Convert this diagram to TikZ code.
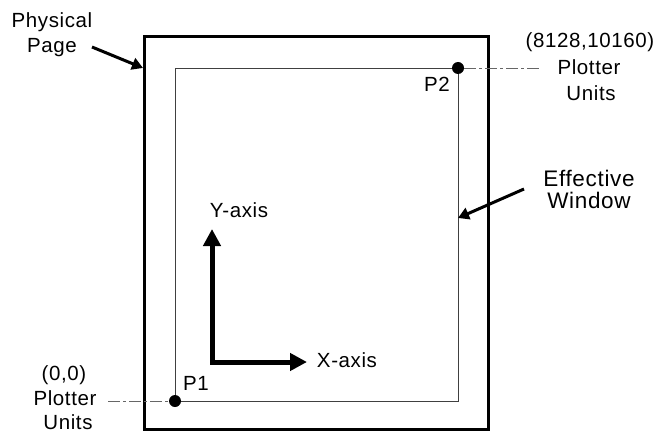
\documentclass[tikz,border=0pt]{standalone}
\usepackage{fontspec}
\setmainfont[LetterSpace=3]{Liberation Sans}
\usetikzlibrary{arrows.meta}
\tikzset{
  lbl/.style={font=\fontsize{20.5}{25}\selectfont, anchor=base, inner sep=0pt},
  biglbl/.style={font=\fontsize{22.5}{25}\selectfont, anchor=base, inner sep=0pt},
  page/.style={line width=3pt, line join=miter},
  window/.style={line width=0.9pt, draw=black!75},
  leader/.style={line width=0.6pt, draw=black!60, dash pattern=on 12pt off 3pt on 3pt off 3pt},
  dot/.style={circle, fill=black, inner sep=0pt, minimum size=12pt},
  axis/.style={line width=5pt, line join=miter, {Triangle[length=17pt,width=17pt]}-{Triangle[length=17pt,width=17pt]}},
  pointer/.style={line width=3pt, -{Triangle[length=11pt,width=12pt]}}
}
\begin{document}
\begin{tikzpicture}[x=1pt,y=-1pt]
\useasboundingbox[fill=white] (0,0) rectangle (655,433);
% physical page and effective window
\draw[page] (144,37) rectangle (488,429);
\draw[window] (175,68) rectangle (458,401);
% points
\node[dot] (p1) at (175,401) {};
\node[dot] (p2) at (458,68) {};
\coordinate (l1) at (108,401);
\coordinate (l2) at (540,68);
\draw[leader] (l1) -- (p1);
\draw[leader] (p2) -- (l2);
% labels
\node[lbl] (phys) at (52,28) {Physical};
\node[lbl] (pagel) at (52,53) {Page};
\coordinate (pgs) at (92,47);
\coordinate (pge) at (143,68);
\draw[pointer] (pgs) -- (pge);

\node[lbl] (c2) at (590,48) {(8128,10160)};
\node[lbl] (pu2) at (589,75) {Plotter};
\node[lbl] (u2) at (591,100) {Units};

\node[lbl] (c1) at (64,380) {(0,0)};
\node[lbl] (pu1) at (65,405) {Plotter};
\node[lbl] (u1) at (68,429) {Units};

\node[lbl] (P1) at (196,390) {P1};
\node[lbl] (P2) at (437,92) {P2};

\node[biglbl] (eff) at (589,186) {Effective};
\node[biglbl] (win) at (589,208) {Window};
\coordinate (ews) at (524,189);
\coordinate (ewe) at (458,218);
\draw[pointer] (ews) -- (ewe);

% axes
\coordinate (org) at (212,362);
\coordinate (ytip) at (212,229);
\coordinate (xtip) at (307,362);
\draw[axis] (ytip) -- (org) -- (xtip);
\node[lbl] (ya) at (239,217) {Y-axis};
\node[lbl] (xa) at (347,367) {X-axis};
\end{tikzpicture}
\end{document}
